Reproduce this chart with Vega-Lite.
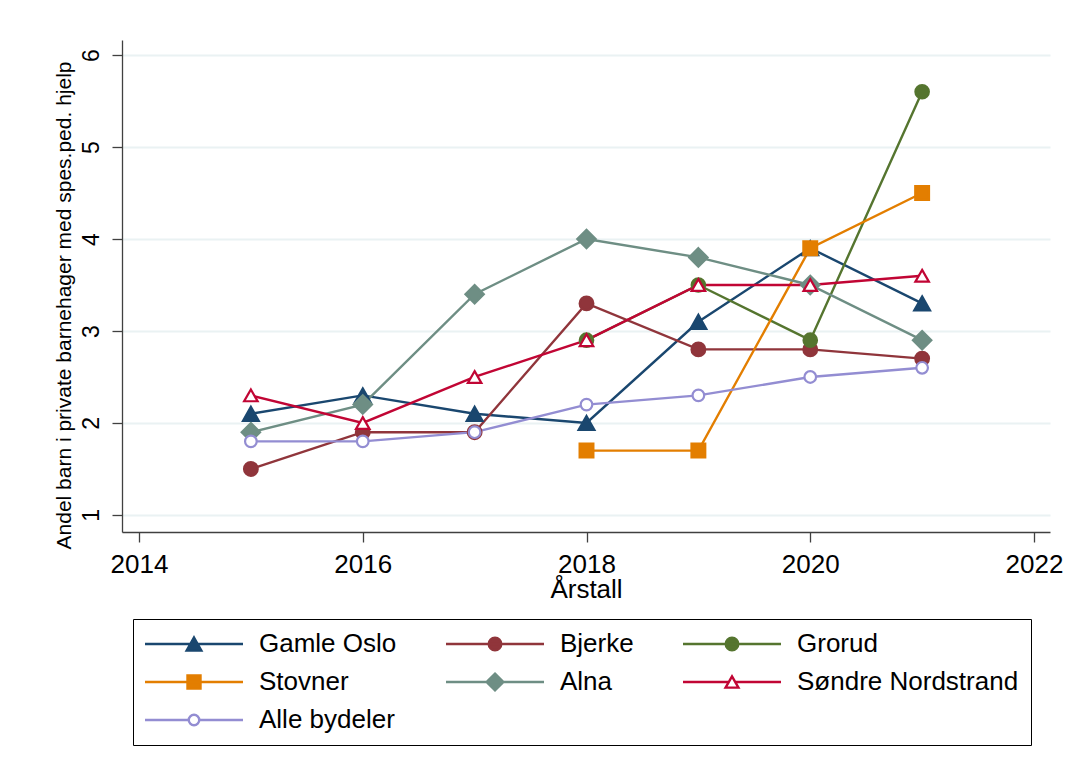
{
  "$schema": "https://vega.github.io/schema/vega-lite/v6.json",
  "width": 928,
  "height": 492,
  "autosize": {"type": "none"},
  "padding": {"left": 122, "top": 40, "right": 15, "bottom": 239},
  "background": "white",
  "config": {
    "font": "Liberation Sans",
    "view": {"stroke": null}
  },
  "data": {
    "values": [
      {"bydel": "Gamle Oslo", "year": 2015, "value": 2.1},
      {"bydel": "Gamle Oslo", "year": 2016, "value": 2.3},
      {"bydel": "Gamle Oslo", "year": 2017, "value": 2.1},
      {"bydel": "Gamle Oslo", "year": 2018, "value": 2.0},
      {"bydel": "Gamle Oslo", "year": 2019, "value": 3.1},
      {"bydel": "Gamle Oslo", "year": 2020, "value": 3.9},
      {"bydel": "Gamle Oslo", "year": 2021, "value": 3.3},
      {"bydel": "Bjerke", "year": 2015, "value": 1.5},
      {"bydel": "Bjerke", "year": 2016, "value": 1.9},
      {"bydel": "Bjerke", "year": 2017, "value": 1.9},
      {"bydel": "Bjerke", "year": 2018, "value": 3.3},
      {"bydel": "Bjerke", "year": 2019, "value": 2.8},
      {"bydel": "Bjerke", "year": 2020, "value": 2.8},
      {"bydel": "Bjerke", "year": 2021, "value": 2.7},
      {"bydel": "Grorud", "year": 2018, "value": 2.9},
      {"bydel": "Grorud", "year": 2019, "value": 3.5},
      {"bydel": "Grorud", "year": 2020, "value": 2.9},
      {"bydel": "Grorud", "year": 2021, "value": 5.6},
      {"bydel": "Stovner", "year": 2018, "value": 1.7},
      {"bydel": "Stovner", "year": 2019, "value": 1.7},
      {"bydel": "Stovner", "year": 2020, "value": 3.9},
      {"bydel": "Stovner", "year": 2021, "value": 4.5},
      {"bydel": "Alna", "year": 2015, "value": 1.9},
      {"bydel": "Alna", "year": 2016, "value": 2.2},
      {"bydel": "Alna", "year": 2017, "value": 3.4},
      {"bydel": "Alna", "year": 2018, "value": 4.0},
      {"bydel": "Alna", "year": 2019, "value": 3.8},
      {"bydel": "Alna", "year": 2020, "value": 3.5},
      {"bydel": "Alna", "year": 2021, "value": 2.9},
      {"bydel": "Søndre Nordstrand", "year": 2015, "value": 2.3},
      {"bydel": "Søndre Nordstrand", "year": 2016, "value": 2.0},
      {"bydel": "Søndre Nordstrand", "year": 2017, "value": 2.5},
      {"bydel": "Søndre Nordstrand", "year": 2018, "value": 2.9},
      {"bydel": "Søndre Nordstrand", "year": 2019, "value": 3.5},
      {"bydel": "Søndre Nordstrand", "year": 2020, "value": 3.5},
      {"bydel": "Søndre Nordstrand", "year": 2021, "value": 3.6},
      {"bydel": "Alle bydeler", "year": 2015, "value": 1.8},
      {"bydel": "Alle bydeler", "year": 2016, "value": 1.8},
      {"bydel": "Alle bydeler", "year": 2017, "value": 1.9},
      {"bydel": "Alle bydeler", "year": 2018, "value": 2.2},
      {"bydel": "Alle bydeler", "year": 2019, "value": 2.3},
      {"bydel": "Alle bydeler", "year": 2020, "value": 2.5},
      {"bydel": "Alle bydeler", "year": 2021, "value": 2.6}
    ]
  },
  "encoding": {
    "x": {
      "field": "year",
      "type": "quantitative",
      "scale": {"domain": [2013.848, 2022.143], "nice": false, "zero": false},
      "axis": {
        "values": [2014, 2016, 2018, 2020, 2022],
        "format": "d",
        "title": "Årstall",
        "grid": false,
        "labelFontSize": 26,
        "labelColor": "#000000",
        "labelBaseline": "alphabetic",
        "labelPadding": 30,
        "labelFlush": false,
        "labelOverlap": false,
        "tickSize": 10,
        "tickColor": "#404040",
        "tickWidth": 1.3,
        "domainColor": "#404040",
        "domainWidth": 1.3,
        "titleFontSize": 26,
        "titleFontWeight": "normal",
        "titleColor": "#000000",
        "titleBaseline": "alphabetic",
        "titleY": 65
      }
    },
    "y": {
      "field": "value",
      "type": "quantitative",
      "scale": {"domain": [0.815, 6.163], "nice": false, "zero": false},
      "axis": {
        "values": [1, 2, 3, 4, 5, 6],
        "title": "Andel barn i private barnehager med spes.ped. hjelp",
        "grid": true,
        "gridColor": "#eaf2f3",
        "gridWidth": 2,
        "labelAngle": 270,
        "labelAlign": "center",
        "labelBaseline": "alphabetic",
        "labelFontSize": 23,
        "labelColor": "#000000",
        "labelPadding": 14,
        "labelFlush": false,
        "labelOverlap": false,
        "tickSize": 10,
        "tickColor": "#404040",
        "tickWidth": 1.3,
        "domainColor": "#404040",
        "domainWidth": 1.3,
        "titleFontSize": 21,
        "titleFontWeight": "normal",
        "titleColor": "#000000",
        "titleAngle": 270,
        "titleAlign": "center",
        "titleBaseline": "alphabetic",
        "titleX": -52,
        "titleY": 265,
        "titleLimit": 1000
      }
    }
  },
  "resolve": {"scale": {"shape": "independent", "fill": "independent", "stroke": "independent"}},
  "layer": [
    {
      "mark": {"type": "line", "strokeWidth": 2.4},
      "encoding": {
        "color": {
          "field": "bydel",
          "type": "nominal",
          "scale": {
            "domain": ["Alle bydeler", "Alna", "Bjerke", "Gamle Oslo", "Grorud", "Stovner", "Søndre Nordstrand"],
            "range": ["#938dd2", "#6e8e84", "#90353b", "#1a476f", "#55752f", "#e37e00", "#c10534"]
          },
          "legend": null
        }
      }
    },
    {
      "mark": {"type": "point", "filled": true, "opacity": 1, "strokeWidth": 2.2},
      "encoding": {
        "shape": {
          "field": "bydel",
          "type": "nominal",
          "scale": {
            "domain": ["Alle bydeler", "Alna", "Bjerke", "Gamle Oslo", "Grorud", "Stovner", "Søndre Nordstrand"],
            "range": [
              "M0.75,0A0.75,0.75,0,1,1,-0.75,0A0.75,0.75,0,1,1,0.75,0Z",
              "M0,-1.2L1.2,0L0,1.2L-1.2,0Z",
              "M0.9,0A0.9,0.9,0,1,1,-0.9,0A0.9,0.9,0,1,1,0.9,0Z",
              "M0,-0.93L1.05,0.93L-1.05,0.93Z",
              "M0.9,0A0.9,0.9,0,1,1,-0.9,0A0.9,0.9,0,1,1,0.9,0Z",
              "M-0.93,-0.93H0.93V0.93H-0.93Z",
              "M0,-0.8L0.92,0.8L-0.92,0.8Z"
            ]
          },
          "legend": null
        },
        "fill": {
          "field": "bydel",
          "type": "nominal",
          "scale": {
            "domain": ["Alle bydeler", "Alna", "Bjerke", "Gamle Oslo", "Grorud", "Stovner", "Søndre Nordstrand"],
            "range": ["#ffffff", "#6e8e84", "#90353b", "#1a476f", "#55752f", "#e37e00", "#ffffff"]
          },
          "legend": null
        },
        "stroke": {
          "field": "bydel",
          "type": "nominal",
          "scale": {
            "domain": ["Alle bydeler", "Alna", "Bjerke", "Gamle Oslo", "Grorud", "Stovner", "Søndre Nordstrand"],
            "range": ["#938dd2", "#6e8e84", "#90353b", "#1a476f", "#55752f", "#e37e00", "#c10534"]
          },
          "legend": null
        },
        "size": {
          "field": "bydel",
          "type": "nominal",
          "scale": {
            "domain": ["Alle bydeler", "Alna", "Bjerke", "Gamle Oslo", "Grorud", "Stovner", "Søndre Nordstrand"],
            "range": [240, 215, 190, 200, 190, 200, 240]
          },
          "legend": null
        }
      }
    },
    {
      "mark": {"type": "point", "filled": true, "opacity": 0, "strokeWidth": 2.4},
      "encoding": {
        "shape": {
          "field": "bydel",
          "type": "nominal",
          "scale": {
            "domain": ["Gamle Oslo", "Stovner", "Søndre Nordstrand", "Bjerke", "Alna", "Alle bydeler", "Grorud"],
            "range": [
              "M-7,0H7M0,-0.93L1.05,0.93L-1.05,0.93Z",
              "M-7,0H7M-0.93,-0.93H0.93V0.93H-0.93Z",
              "M-7,0H-0.46M0.46,0H7M0,-0.8L0.92,0.8L-0.92,0.8Z",
              "M-7,0H7M0.9,0A0.9,0.9,0,1,1,-0.9,0A0.9,0.9,0,1,1,0.9,0Z",
              "M-7,0H7M0,-1.2L1.2,0L0,1.2L-1.2,0Z",
              "M-7,0H-0.75M0.75,0H7M0.75,0A0.75,0.75,0,1,1,-0.75,0A0.75,0.75,0,1,1,0.75,0Z",
              "M-7,0H7M0.9,0A0.9,0.9,0,1,1,-0.9,0A0.9,0.9,0,1,1,0.9,0Z"
            ]
          },
          "legend": {
            "title": null,
            "orient": "none",
            "legendX": 11,
            "legendY": 579,
            "columns": 3,
            "columnPadding": 44,
            "rowPadding": 11,
            "padding": 12,
            "strokeColor": "#000000",
            "fillColor": "#ffffff",
            "cornerRadius": 0,
            "labelFontSize": 26,
            "labelFont": "Liberation Sans",
            "labelColor": "#000000",
            "labelLimit": 500,
            "labelOffset": 52,
            "symbolOffset": 36,
            "symbolSize": 196,
            "symbolStrokeWidth": 2.4,
            "symbolOpacity": 1
          }
        },
        "fill": {
          "field": "bydel",
          "type": "nominal",
          "scale": {
            "domain": ["Gamle Oslo", "Stovner", "Søndre Nordstrand", "Bjerke", "Alna", "Alle bydeler", "Grorud"],
            "range": ["#1a476f", "#e37e00", "#ffffff", "#90353b", "#6e8e84", "#ffffff", "#55752f"]
          },
          "legend": {
            "title": null,
            "orient": "none",
            "legendX": 11,
            "legendY": 579,
            "columns": 3,
            "columnPadding": 44,
            "rowPadding": 11,
            "padding": 12,
            "strokeColor": "#000000",
            "fillColor": "#ffffff",
            "cornerRadius": 0,
            "labelFontSize": 26,
            "labelFont": "Liberation Sans",
            "labelColor": "#000000",
            "labelLimit": 500,
            "labelOffset": 52,
            "symbolOffset": 36,
            "symbolSize": 196,
            "symbolStrokeWidth": 2.4,
            "symbolOpacity": 1
          }
        },
        "stroke": {
          "field": "bydel",
          "type": "nominal",
          "scale": {
            "domain": ["Gamle Oslo", "Stovner", "Søndre Nordstrand", "Bjerke", "Alna", "Alle bydeler", "Grorud"],
            "range": ["#1a476f", "#e37e00", "#c10534", "#90353b", "#6e8e84", "#938dd2", "#55752f"]
          },
          "legend": {
            "title": null,
            "orient": "none",
            "legendX": 11,
            "legendY": 579,
            "columns": 3,
            "columnPadding": 44,
            "rowPadding": 11,
            "padding": 12,
            "strokeColor": "#000000",
            "fillColor": "#ffffff",
            "cornerRadius": 0,
            "labelFontSize": 26,
            "labelFont": "Liberation Sans",
            "labelColor": "#000000",
            "labelLimit": 500,
            "labelOffset": 52,
            "symbolOffset": 36,
            "symbolSize": 196,
            "symbolStrokeWidth": 2.4,
            "symbolOpacity": 1
          }
        }
      }
    }
  ]
}
